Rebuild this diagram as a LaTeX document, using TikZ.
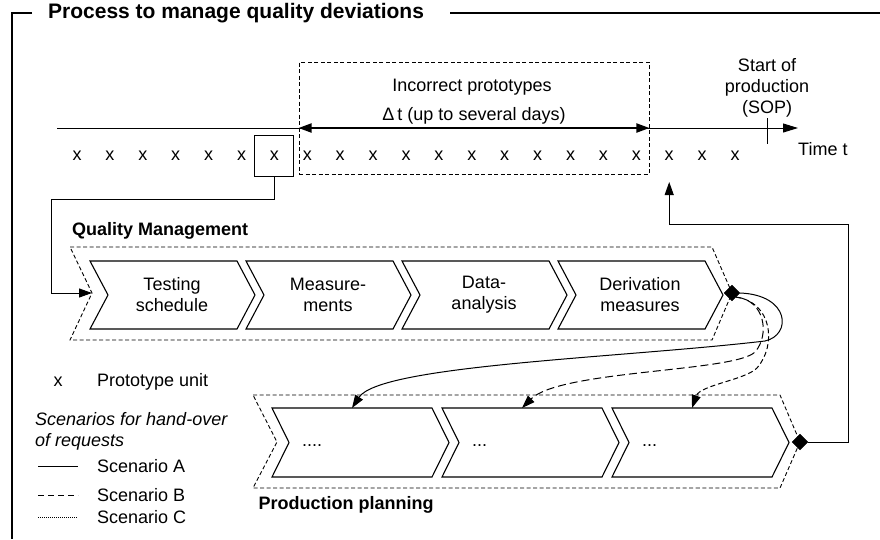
\documentclass[tikz,border=0pt]{standalone}
\usepackage{fontspec}
\setmainfont{Liberation Sans}
\usetikzlibrary{arrows.meta, shapes.geometric, positioning}
\tikzset{
  txt/.style={font=\fontsize{18}{21}\selectfont, align=center, inner sep=0pt}, % plain text
  itxt/.style={font=\itshape\fontsize{18}{21}\selectfont, align=left, inner sep=0pt},
  lbl/.style={font=\bfseries\fontsize{18}{21}\selectfont, inner sep=0pt}, % lane titles
  headline/.style={font=\bfseries\fontsize{21}{24}\selectfont, inner sep=0pt},
  frame/.style={line width=1.1pt},
  chev/.style={draw, line width=1.1pt, line join=miter},
  body/.style={inner sep=0pt, outer sep=0pt}, % invisible chevron body
  lane/.style={draw, line width=0.9pt, dash pattern=on 4pt off 2.5pt},
  dashbox/.style={draw, line width=0.9pt, dash pattern=on 4pt off 2.5pt, inner sep=0pt},
  conn/.style={-{Triangle[length=13pt,width=9pt]}, line width=1pt},
  gate/.style={diamond, fill=black, draw, inner sep=0pt, minimum size=16pt},
  scenB/.style={dash pattern=on 8pt off 4pt},
  scenC/.style={dash pattern=on 5pt off 3pt},
  legdash/.style={line width=0.9pt, dash pattern=on 6pt off 4pt},
  legdot/.style={line width=0.6pt, dash pattern=on 1pt off 1pt},
}

\begin{document}
\begin{tikzpicture}[x=1pt, y=-1pt]
  \useasboundingbox (0,0) rectangle (880,539);

  % frame and title
  \node[headline, anchor=west] (title) at (48,13) {Process to manage quality deviations};
  \draw[frame] (32,13) -- (12,13) -- (12,539);
  \draw[frame] (450,13) -- (880,13);

  % time axis
  \coordinate (tstart) at (57,128);
  \coordinate (tend) at (798,128);
  \draw[-{Triangle[length=15pt,width=9pt]}, line width=1pt] (tstart) -- (tend);
  \node[txt, anchor=west] (time) at (798,149) {Time t};
  \node[txt, align=center] (sop) at (767,88) {Start of\\production\\(SOP)};
  \draw[line width=1pt] (767,118) -- (767,144);

  % incorrect prototypes
  \node[dashbox, minimum width=350pt, minimum height=112pt] (wrong) at (474,118) {};
  \node[txt] (wrongtxt) at (472,87) {Incorrect prototypes};
  \node[txt] (delta) at (474,116) {Δ\,t (up to several days)};
  \draw[{Triangle[length=13pt,width=9pt]}-{Triangle[length=13pt,width=9pt]}, line width=2pt]
    (wrong.west |- tstart) -- (wrong.east |- tstart);

  % prototype units
  \foreach \i in {0,...,20}
    \node[txt] (x\i) at (77+32.9*\i,156) {x};
  \node[draw, line width=1pt, minimum width=39pt, minimum height=41pt] (xbox) at (x6) {};

  % quality management
  \node[lbl, anchor=west] (qmlabel) at (72,231) {Quality Management};
  \draw[lane] (70,247) -- (712,247) -- (732,293) -- (712,340) -- (70,340) -- (92,293) -- cycle;
  \coordinate (qmin) at (92,293);
  \foreach \i/\txt in {0/{Testing\\schedule}, 1/{Measure-\\ments}, 2/{Data-\\analysis}, 3/{Derivation\\measures}} {
    \draw[chev] (90+156*\i,261) -- ++(147,0) -- ++(18,34) -- ++(-18,34) -- ++(-147,0) -- ++(18,-34) -- cycle;
    \node[txt] (qm\i) at (172+156*\i,295) {\txt};
  }
  \node[gate] (qmout) at (732,293) {};

  % production planning
  \draw[lane] (253,395) -- (780,395) -- (800,442) -- (780,488) -- (253,488) -- (277,442) -- cycle;
  \foreach \i/\dots in {0/{....}, 1/{...}, 2/{...}} {
    \draw[chev] (272+170*\i,408) -- ++(160,0) -- ++(17,34.5) -- ++(-17,34.5) -- ++(-160,0) -- ++(17,-34.5) -- cycle;
    \node[body, minimum width=160pt, minimum height=69pt] (pp\i) at (352+170*\i,442.5) {};
    \node[txt, anchor=west] (dots\i) at (302+170*\i,446) {\dots};
  }
  \node[gate] (ppout) at (800,442) {};
  \node[lbl] (pplabel) at (346,505) {Production planning};

  % hand-over
  \draw[conn] (xbox.south) |- (51,199) |- (qmin);
  \coordinate (fbin) at ([yshift=-26pt]x18.center);
  \draw[conn] (ppout.east) -| (848,224) -| (fbin);
  \draw[conn] (qmout.east) .. controls (790,295) and (792,335) .. (765,341)
    .. controls (620,358) and (380,365) .. (pp0.north);
  \draw[conn, scenB] (qmout.south east) .. controls (765,300) and (770,335) .. (755,352)
    .. controls (735,372) and (560,370) .. (pp1.north);
  \draw[conn, scenC] (qmout.south east) .. controls (772,302) and (777,345) .. (757,368)
    .. controls (745,380) and (700,385) .. (pp2.north);

  % legend
  \node[txt] (legx) at (58,382) {x};
  \node[txt, anchor=west] (legxtxt) at (97,382) {Prototype unit};
  \node[itxt, anchor=west] (legscen) at (35,431) {Scenarios for hand-over\\of requests};
  \foreach \y/\s/\n in {466/solid/A, 495/legdash/B, 517/legdot/C} {
    \draw[line width=1pt, \s] (38,\y) -- (78,\y);
    \node[txt, anchor=west] (leg\n) at (97,\y) {Scenario \n};
  }
\end{tikzpicture}
\end{document}
